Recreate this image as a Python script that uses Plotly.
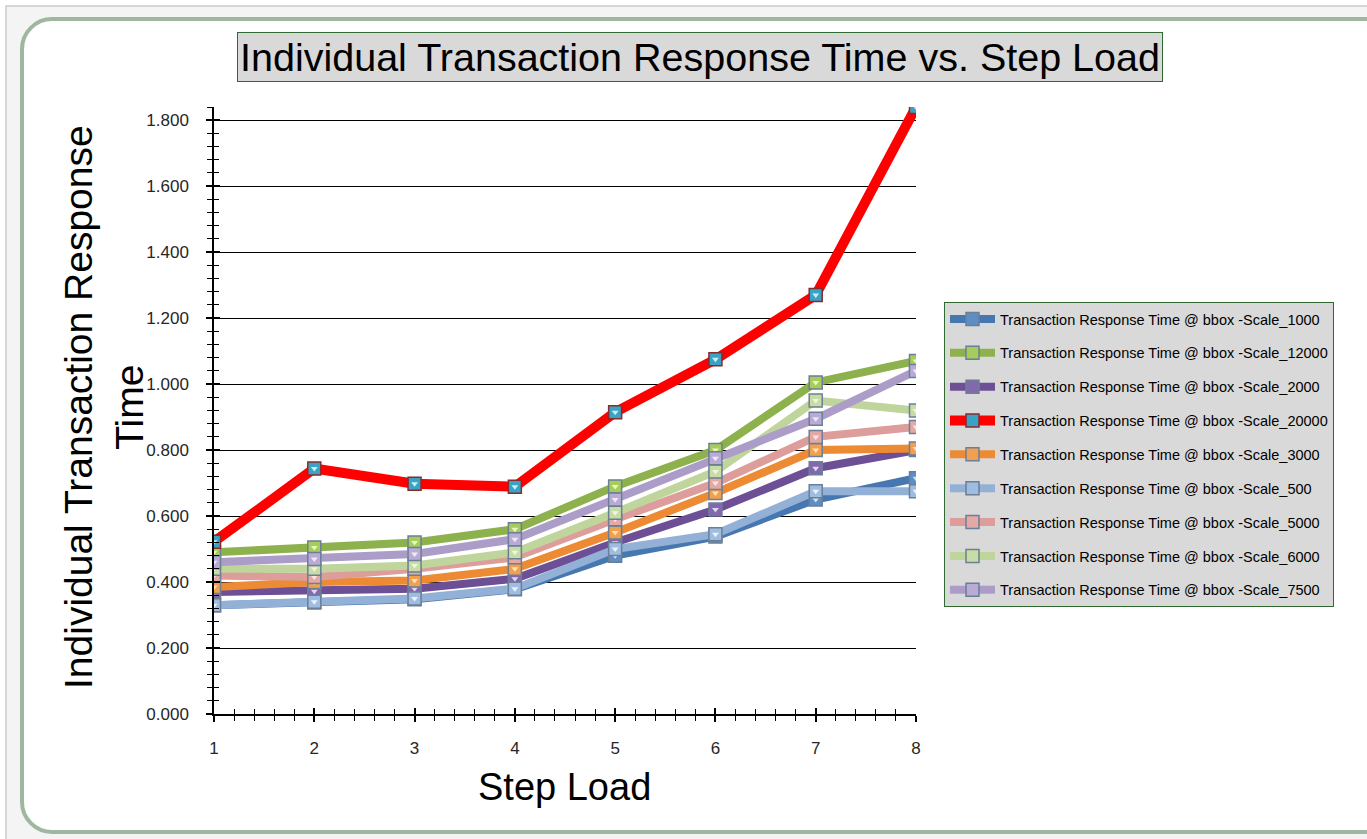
import plotly.graph_objects as go

# ---------------- data ----------------
steps = [1, 2, 3, 4, 5, 6, 7, 8]

series_names = [
    "Transaction Response Time @ bbox -Scale_1000",
    "Transaction Response Time @ bbox -Scale_12000",
    "Transaction Response Time @ bbox -Scale_2000",
    "Transaction Response Time @ bbox -Scale_20000",
    "Transaction Response Time @ bbox -Scale_3000",
    "Transaction Response Time @ bbox -Scale_500",
    "Transaction Response Time @ bbox -Scale_5000",
    "Transaction Response Time @ bbox -Scale_6000",
    "Transaction Response Time @ bbox -Scale_7500",
]

scale_1000 = [0.330, 0.338, 0.348, 0.378, 0.480, 0.538, 0.650, 0.715]
scale_12000 = [0.490, 0.505, 0.520, 0.560, 0.690, 0.800, 1.005, 1.070]
scale_2000 = [0.370, 0.372, 0.380, 0.410, 0.520, 0.620, 0.745, 0.800]
scale_20000 = [0.522, 0.744, 0.698, 0.689, 0.915, 1.075, 1.270, 1.840]
scale_3000 = [0.385, 0.400, 0.405, 0.440, 0.550, 0.670, 0.800, 0.805]
scale_500 = [0.330, 0.340, 0.350, 0.380, 0.500, 0.545, 0.675, 0.675]
scale_5000 = [0.420, 0.415, 0.440, 0.475, 0.590, 0.700, 0.840, 0.870]
scale_6000 = [0.440, 0.440, 0.450, 0.490, 0.610, 0.735, 0.950, 0.920]
scale_7500 = [0.460, 0.470, 0.485, 0.530, 0.650, 0.775, 0.895, 1.040]

series_values = [scale_1000, scale_12000, scale_2000, scale_20000, scale_3000,
                 scale_500, scale_5000, scale_6000, scale_7500]

y_tick_values = [0.0, 0.2, 0.4, 0.6, 0.8, 1.0, 1.2, 1.4, 1.6, 1.8]

title_text = "Individual Transaction Response Time vs. Step Load"
y_title_text = "Individual Transaction Response<br>Time"
x_title_text = "Step Load"

# ---------------- styles ----------------
line_colors = ["#4677b0", "#8db14c", "#6d4f95", "#ff0000", "#ec8b34",
               "#93b1d6", "#dd9d9b", "#bfd59c", "#ab9dc8"]
marker_fill = ["#5d8ec4", "#a6cc5c", "#8468ad", "#3aa3c4", "#f2a050",
               "#9fbde0", "#e2a9a7", "#c8dca6", "#b9abd4"]
tri_fill = ["#cfe3f5", "#e8f7b8", "#e2d6f3", "#c6f0f7", "#ffe2b0",
            "#eaf3fc", "#fbe3e3", "#eef6dd", "#efe7fa"]
line_widths = [8, 8, 8, 10, 8, 8, 8, 8, 8]

W_PX, H_PX = 1367, 839
L, R, T, B = 214, 916, 107, 714
PW, PH = R - L, B - T


def px(x):
    return (x - L) / PW


def py(y):
    return (B - y) / PH


fig = go.Figure()

for i in range(len(series_names)):
    fig.add_trace(go.Scatter(
        x=steps, y=series_values[i], name=series_names[i],
        mode="lines+markers",
        line=dict(color=line_colors[i], width=line_widths[i]),
        marker=dict(symbol="square", size=13, color=marker_fill[i],
                    line=dict(color="#6b7f97" if i != 3 else "#8a2a2a", width=1.5)),
        legendgroup=f"g{i}",
        hoverinfo="x+y+name",
    ))
    fig.add_trace(go.Scatter(
        x=steps, y=series_values[i], mode="markers", showlegend=False,
        legendgroup=f"g{i}",
        marker=dict(symbol="triangle-down", size=6, color=tri_fill[i],
                    line=dict(width=0)),
        hoverinfo="skip",
    ))

# invisible trace for the second (inside-tick) axes
fig.add_trace(go.Scatter(x=[1, 8], y=[0, 1.84], xaxis="x2", yaxis="y2",
                         mode="markers", marker=dict(opacity=0),
                         showlegend=False, hoverinfo="skip"))

tick_font = dict(family="Liberation Sans, Arial, sans-serif", size=17, color="#262626")

fig.update_layout(
    width=W_PX, height=H_PX,
    margin=dict(l=L, r=W_PX - R, t=T, b=H_PX - B, pad=0),
    paper_bgcolor="white",
    plot_bgcolor="rgba(0,0,0,0)",
    showlegend=True,
    xaxis=dict(
        range=[1, 8], tickvals=steps, ticktext=[str(s) for s in steps],
        showgrid=False, zeroline=False,
        showline=True, linecolor="black", linewidth=1.5,
        ticks="outside", ticklen=6, tickwidth=1.5, tickcolor="black",
        minor=dict(dtick=0.2, tick0=1, ticks="outside", ticklen=5,
                   tickwidth=1, tickcolor="black"),
        tickfont=tick_font, ticklabelstandoff=12,
    ),
    yaxis=dict(
        range=[0, 1.84], tickvals=y_tick_values, tickformat=".3f",
        showgrid=True, gridcolor="black", gridwidth=1,
        zeroline=False,
        showline=True, linecolor="black", linewidth=1.5,
        ticks="outside", ticklen=6, tickwidth=1.5, tickcolor="black",
        minor=dict(dtick=0.04, tick0=0, ticks="outside", ticklen=5,
                   tickwidth=1, tickcolor="black", showgrid=False),
        tickfont=tick_font, ticklabelstandoff=14,
    ),
    xaxis2=dict(
        range=[1, 8], overlaying="x", anchor="y2", side="bottom",
        tickvals=steps, showticklabels=False, showgrid=False, zeroline=False,
        showline=False, ticks="inside", ticklen=6, tickwidth=1.5, tickcolor="black",
        minor=dict(dtick=0.2, tick0=1, ticks="inside", ticklen=5,
                   tickwidth=1, tickcolor="black"),
    ),
    yaxis2=dict(
        range=[0, 1.84], overlaying="y", anchor="x2", side="left",
        tickvals=y_tick_values, showticklabels=False, showgrid=False,
        zeroline=False, showline=False,
        ticks="inside", ticklen=6, tickwidth=1.5, tickcolor="black",
        minor=dict(dtick=0.04, tick0=0, ticks="inside", ticklen=5,
                   tickwidth=1, tickcolor="black", showgrid=False),
    ),
    legend=dict(
        x=px(944), y=py(302), xanchor="left", yanchor="top",
        bgcolor="#d9d9d9", bordercolor="#2f6a2f", borderwidth=1,
        font=dict(family="Liberation Sans, Arial, sans-serif",
                  size=14.5, color="black"),
        itemwidth=45, tracegroupgap=12, traceorder="grouped",
        entrywidth=360, entrywidthmode="pixels",
    ),
)

# ---------------- frame shapes ----------------
def rounded_rect(x0, y0, x1, y1, r):
    k = 0.45
    pts = []
    pts.append(f"M {px(x0 + r)},{py(y0)}")
    pts.append(f"L {px(x1 - r)},{py(y0)}")
    pts.append(f"C {px(x1 - r * k)},{py(y0)} {px(x1)},{py(y0 + r * k)} {px(x1)},{py(y0 + r)}")
    pts.append(f"L {px(x1)},{py(y1 - r)}")
    pts.append(f"C {px(x1)},{py(y1 - r * k)} {px(x1 - r * k)},{py(y1)} {px(x1 - r)},{py(y1)}")
    pts.append(f"L {px(x0 + r)},{py(y1)}")
    pts.append(f"C {px(x0 + r * k)},{py(y1)} {px(x0)},{py(y1 - r * k)} {px(x0)},{py(y1 - r)}")
    pts.append(f"L {px(x0)},{py(y0 + r)}")
    pts.append(f"C {px(x0)},{py(y0 + r * k)} {px(x0 + r * k)},{py(y0)} {px(x0 + r)},{py(y0)}")
    pts.append("Z")
    return " ".join(pts)


fig.add_shape(type="rect", xref="paper", yref="paper",
              x0=px(6), y0=py(6), x1=px(1400), y1=py(900),
              fillcolor="#f3f4f3", line=dict(color="#c9cbc9", width=1.5), layer="below")
fig.add_shape(type="path", xref="paper", yref="paper",
              path=rounded_rect(22, 19, 1395, 832, 30),
              fillcolor="white", line=dict(color="#9fb79f", width=4), layer="below")

# ---------------- texts ----------------
fig.add_annotation(
    text=title_text, xref="paper", yref="paper", x=px(700), y=py(57),
    xanchor="center", yanchor="middle", showarrow=False,
    font=dict(family="Liberation Sans, Arial, sans-serif", size=39.5, color="black"),
    bgcolor="#d9d9d9", bordercolor="#2f6a2f", borderwidth=1, borderpad=2,
)
fig.add_annotation(
    text=y_title_text, xref="paper", yref="paper", x=px(104), y=py(407),
    xanchor="center", yanchor="middle", showarrow=False, textangle=-90,
    font=dict(family="Liberation Sans, Arial, sans-serif", size=39, color="black"),
    align="center",
)
fig.add_annotation(
    text=x_title_text, xref="paper", yref="paper", x=px(564), y=py(787),
    xanchor="center", yanchor="middle", showarrow=False,
    font=dict(family="Liberation Sans, Arial, sans-serif", size=38, color="black"),
)

fig.write_html("out.html", post_script="document.body.style.margin='0px';",
               config={"displayModeBar": False})
